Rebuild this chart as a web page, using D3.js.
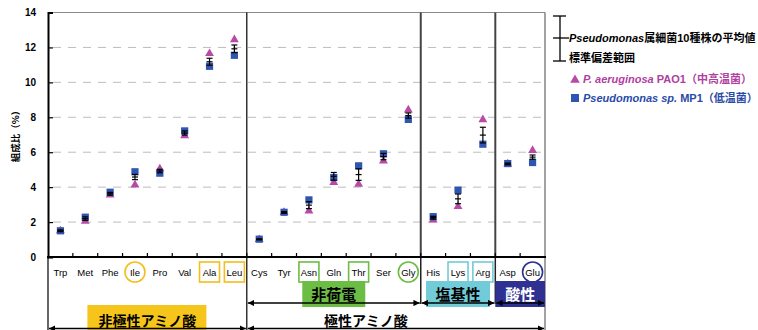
<!DOCTYPE html>
<html>
<head>
<meta charset="utf-8">
<script src="https://cdn.jsdelivr.net/npm/d3@7"></script>
<style>
  html, body { margin: 0; padding: 0; background: #fff; }
  svg { display: block; }
  text { font-family: "Liberation Sans", Arial, "Noto Sans CJK JP", sans-serif; }
  .jp { font-family: "Noto Sans CJK JP", "Liberation Sans", sans-serif; font-weight: 700; }
</style>
</head>
<body>
<svg id="chart" width="758" height="330"></svg>
<script>
// Amino acid composition (%) of Pseudomonas strains
const categories = ["Trp","Met","Phe","Ile","Pro","Val","Ala","Leu",
                    "Cys","Tyr","Asn","Gln","Thr","Ser","Gly",
                    "His","Lys","Arg","Asp","Glu"];
// P. aeruginosa PAO1 (mesophile)
const pao1 = [1.5, 2.05, 3.55, 4.13, 5.05, 6.95, 11.65, 12.45,
              1.0, 2.55, 2.64, 4.27, 4.17, 5.5, 8.42,
              2.12, 2.89, 7.86, 5.33, 6.1];
// Pseudomonas sp. MP1 (psychrophile)
const mp1 = [1.5, 2.28, 3.71, 4.88, 4.8, 7.22, 10.92, 11.55,
             1.02, 2.56, 3.27, 4.55, 5.22, 5.91, 7.88,
             2.31, 3.83, 6.46, 5.35, 5.41];
// mean and standard deviation over 10 Pseudomonas strains
const meanVals = [1.5, 2.2, 3.62, 4.58, 4.92, 7.1, 11.18, 11.92,
                  1.01, 2.55, 2.97, 4.62, 4.72, 5.75, 8.1,
                  2.25, 3.33, 6.98, 5.33, 5.72];
const sdVals = [0.05, 0.1, 0.08, 0.15, 0.1, 0.12, 0.2, 0.22,
                0.03, 0.05, 0.2, 0.22, 0.33, 0.18, 0.15,
                0.08, 0.28, 0.45, 0.05, 0.12];
const yTicks = [0, 2, 4, 6, 8, 10, 12, 14];

// highlighted residue labels
const circled = { "Ile": "#f2bf1c", "Gly": "#6cbd45", "Glu": "#2e3192" };
const boxed = { "Ala": "#f2bf1c", "Leu": "#f2bf1c", "Asn": "#6cbd45", "Thr": "#6cbd45",
                "Lys": "#72cbd8", "Arg": "#72cbd8" };

// class groupings (start index, end index exclusive)
const subGroups = [
  { label: "非荷電", from: 8, to: 15, fill: "#6cbd45", color: "#000", w: 63 },
  { label: "塩基性", from: 15, to: 18, fill: "#72cbd8", color: "#000", w: 64 },
  { label: "酸性", from: 18, to: 20, fill: "#2e3192", color: "#fff", w: null }
];
const mainGroups = [
  { label: "非極性アミノ酸", from: 0, to: 8 },
  { label: "極性アミノ酸", from: 8, to: 20 }
];

const triColor = "#b84aa6";
const sqColor = "#2f55b0";

const svg = d3.select("#chart");
const plotL = 48, plotR = 545, plotT = 12.5, plotB = 257;

const x = d3.scaleBand().domain(categories).range([plotL, plotR]);
const y = d3.scaleLinear().domain([0, 14]).range([plotB, plotT]);
const cx = c => x(c) + x.bandwidth() / 2;
const edge = i => plotL + i * x.step();

// arrowhead markers
const defs = svg.append("defs");
defs.append("marker").attr("id", "ah").attr("viewBox", "0 0 10 10")
  .attr("refX", 10).attr("refY", 5).attr("markerWidth", 4.5).attr("markerHeight", 4.5)
  .attr("markerUnits", "strokeWidth").attr("orient", "auto-start-reverse")
  .append("path").attr("d", "M0,0 L10,5 L0,10 z").attr("fill", "#000");

// dashed gridlines
svg.append("g").selectAll("line").data(yTicks.filter(t => t > 0 && t < 14)).join("line")
  .attr("x1", plotL + 5).attr("x2", plotR)
  .attr("y1", d => y(d)).attr("y2", d => y(d))
  .attr("stroke", "#bdbdbd").attr("stroke-width", 1).attr("stroke-dasharray", "8,7");

// frame: top & right border
svg.append("line").attr("x1", plotL).attr("x2", plotR).attr("y1", plotT).attr("y2", plotT)
  .attr("stroke", "#8a8a8a").attr("stroke-width", 1);
svg.append("line").attr("x1", plotR).attr("x2", plotR).attr("y1", plotT).attr("y2", 330)
  .attr("stroke", "#666").attr("stroke-width", 1.2);

// group separators inside plot
svg.append("line").attr("x1", edge(8)).attr("x2", edge(8)).attr("y1", plotT).attr("y2", 330)
  .attr("stroke", "#000").attr("stroke-width", 1.2);
[15, 18].forEach(i => {
  svg.append("line").attr("x1", edge(i)).attr("x2", edge(i)).attr("y1", plotT).attr("y2", plotB)
    .attr("stroke", "#444").attr("stroke-width", 2);
  svg.append("line").attr("x1", edge(i)).attr("x2", edge(i)).attr("y1", plotB).attr("y2", 304)
    .attr("stroke", "#222").attr("stroke-width", 1.5);
});
// left axis extension below plot
svg.append("line").attr("x1", plotL).attr("x2", plotL).attr("y1", plotB).attr("y2", 330)
  .attr("stroke", "#000").attr("stroke-width", 1.2);

// y axis
const yAxis = svg.append("g").attr("transform", `translate(${plotL},0)`)
  .call(d3.axisLeft(y).tickValues(yTicks).tickSize(-5).tickPadding(12).tickFormat(d3.format("d")));
yAxis.select(".domain").attr("stroke", "#000").attr("stroke-width", 2);
yAxis.selectAll(".tick line").attr("stroke", "#000").attr("stroke-width", 1.2);
yAxis.selectAll(".tick text").attr("font-size", 10).attr("font-weight", 700)
  .attr("font-family", "'Liberation Sans', Arial, sans-serif").attr("fill", "#000");

// x axis with boundary ticks pointing up
svg.append("line").attr("x1", plotL - 1).attr("x2", plotR + 1).attr("y1", plotB).attr("y2", plotB)
  .attr("stroke", "#000").attr("stroke-width", 2);
svg.append("g").selectAll("line").data(d3.range(1, categories.length)).join("line")
  .attr("x1", d => edge(d)).attr("x2", d => edge(d))
  .attr("y1", plotB).attr("y2", plotB - 4)
  .attr("stroke", "#000").attr("stroke-width", 1.2);

// category labels
const labY = 272;
categories.forEach(c => {
  if (circled[c]) {
    svg.append("ellipse").attr("cx", cx(c)).attr("cy", labY).attr("rx", 10).attr("ry", 10)
      .attr("fill", "none").attr("stroke", circled[c]).attr("stroke-width", 1.6);
  }
  if (boxed[c]) {
    svg.append("rect").attr("x", cx(c) - 10).attr("y", labY - 10).attr("width", 20).attr("height", 20)
      .attr("fill", "none").attr("stroke", boxed[c]).attr("stroke-width", 1.6);
  }
});
svg.append("g").selectAll("text").data(categories).join("text")
  .attr("x", d => cx(d)).attr("y", labY + 3.5)
  .attr("text-anchor", "middle").attr("font-size", 9.5).attr("fill", "#000")
  .attr("font-family", "'Liberation Sans', Arial, sans-serif")
  .text(d => d);

// y axis title
svg.append("text").attr("class", "jp")
  .attr("transform", "translate(19,134) rotate(-90)")
  .attr("text-anchor", "middle").attr("font-size", 9.5).text("組成比（%）");

// markers: triangles (PAO1), squares (MP1), then error bars on top
const tri = d3.symbol().type(d3.symbolTriangle).size(34);
svg.append("g").selectAll("path").data(categories).join("path")
  .attr("d", tri)
  .attr("transform", (d, i) => `translate(${cx(d)},${y(pao1[i])})`)
  .attr("fill", triColor);

svg.append("g").selectAll("rect").data(categories).join("rect")
  .attr("x", d => cx(d) - 3.6)
  .attr("y", (d, i) => y(mp1[i]) - 3.6)
  .attr("width", 7.2).attr("height", 7.2)
  .attr("fill", sqColor);

const eb = svg.append("g").attr("stroke", "#000").attr("stroke-width", 1.2);
categories.forEach((c, i) => {
  const xc = cx(c), hi = y(meanVals[i] + sdVals[i]), lo = y(meanVals[i] - sdVals[i]), m = y(meanVals[i]);
  eb.append("line").attr("x1", xc).attr("x2", xc).attr("y1", hi).attr("y2", lo);
  eb.append("line").attr("x1", xc - 3).attr("x2", xc + 3).attr("y1", hi).attr("y2", hi);
  eb.append("line").attr("x1", xc - 3).attr("x2", xc + 3).attr("y1", lo).attr("y2", lo);
  eb.append("line").attr("x1", xc - 3).attr("x2", xc + 3).attr("y1", m).attr("y2", m);
});

// class labels and arrows under axis
subGroups.forEach(g => {
  const a = edge(g.from), b = edge(g.to), mid = (a + b) / 2;
  const w = g.w || (b - a);
  svg.append("rect").attr("x", mid - w / 2).attr("y", 281).attr("width", w).attr("height", 26)
    .attr("fill", g.fill);
  svg.append("text").attr("class", "jp").attr("x", mid).attr("y", 299.5)
    .attr("text-anchor", "middle").attr("font-size", 15).attr("fill", g.color).text(g.label);
  svg.append("line").attr("x1", a + 1).attr("x2", b - 1).attr("y1", 303).attr("y2", 303)
    .attr("stroke", "#000").attr("stroke-width", 1.4)
    .attr("marker-start", "url(#ah)").attr("marker-end", "url(#ah)");
});

mainGroups.forEach((g, k) => {
  const a = edge(g.from), b = edge(g.to), mid = (a + b) / 2;
  if (k === 0) {
    svg.append("rect").attr("x", mid - 60).attr("y", 305).attr("width", 119).attr("height", 30)
      .attr("fill", "#f5c51b");
    svg.append("text").attr("class", "jp").attr("x", mid).attr("y", 326)
      .attr("text-anchor", "middle").attr("font-size", 14).text(g.label);
  } else {
    svg.append("text").attr("class", "jp").attr("x", mid - 30).attr("y", 326)
      .attr("text-anchor", "middle").attr("font-size", 14).text(g.label);
  }
  svg.append("line").attr("x1", a + 1).attr("x2", b - 1).attr("y1", 328.5).attr("y2", 328.5)
    .attr("stroke", "#000").attr("stroke-width", 1.4)
    .attr("marker-start", "url(#ah)").attr("marker-end", "url(#ah)");
});

// legend
const lg = svg.append("g");
const lx = 560;
lg.append("line").attr("x1", lx).attr("x2", lx).attr("y1", 16).attr("y2", 61).attr("stroke", "#000").attr("stroke-width", 1.3);
lg.append("line").attr("x1", lx - 7).attr("x2", lx + 6).attr("y1", 16).attr("y2", 16).attr("stroke", "#000").attr("stroke-width", 1.3);
lg.append("line").attr("x1", lx - 7).attr("x2", lx + 6).attr("y1", 61).attr("y2", 61).attr("stroke", "#000").attr("stroke-width", 1.3);
lg.append("line").attr("x1", lx - 7).attr("x2", lx + 9).attr("y1", 38).attr("y2", 38).attr("stroke", "#000").attr("stroke-width", 1.3);

const t1 = lg.append("text").attr("x", 569).attr("y", 42).attr("font-size", 11).attr("font-weight", 700);
t1.append("tspan").attr("font-style", "italic").text("Pseudomonas");
t1.append("tspan").attr("class", "jp").text("属細菌");
t1.append("tspan").text("10");
t1.append("tspan").attr("class", "jp").text("種株の平均値");
lg.append("text").attr("class", "jp").attr("x", 569).attr("y", 62).attr("font-size", 11).text("標準偏差範囲");

lg.append("path").attr("d", d3.symbol().type(d3.symbolTriangle).size(40))
  .attr("transform", "translate(575,80)").attr("fill", triColor);
const t2 = lg.append("text").attr("x", 583).attr("y", 83).attr("font-size", 11).attr("font-weight", 700).attr("fill", "#b0409f");
t2.append("tspan").attr("font-style", "italic").text("P. aeruginosa");
t2.append("tspan").text(" PAO1");
t2.append("tspan").attr("class", "jp").text("（中高温菌）");

lg.append("rect").attr("x", 571).attr("y", 94).attr("width", 8).attr("height", 8).attr("fill", sqColor);
const t3 = lg.append("text").attr("x", 583).attr("y", 102).attr("font-size", 11).attr("font-weight", 700).attr("fill", "#2a4aa8");
t3.append("tspan").attr("font-style", "italic").text("Pseudomonas sp.");
t3.append("tspan").text(" MP1");
t3.append("tspan").attr("class", "jp").text("（低温菌）");
</script>
</body>
</html>
